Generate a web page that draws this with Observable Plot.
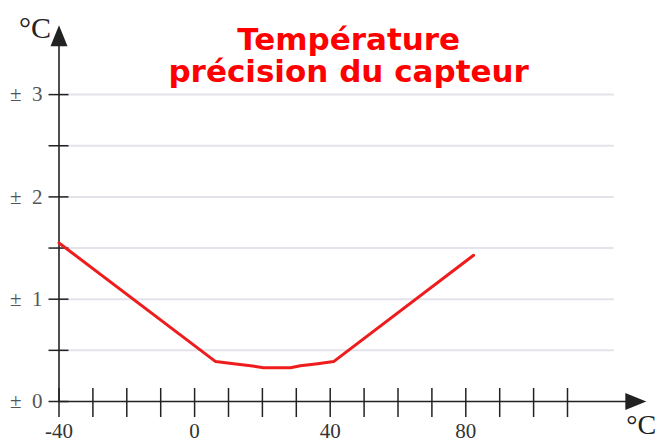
<!DOCTYPE html>
<html>
<head>
<meta charset="utf-8">
<script src="https://cdn.jsdelivr.net/npm/d3@7"></script>
<script src="https://cdn.jsdelivr.net/npm/@observablehq/plot@0.6"></script>
<style>
  html, body { margin: 0; padding: 0; background: #ffffff; }
  #chart svg { display: block; }
</style>
</head>
<body>
<div id="chart"></div>
<script>
// ---- data ----
const tempX = [-40, 6.2, 11.5, 16.5, 20.3, 28.3, 31.2, 36.3, 41.0, 82.3];   // °C (sensor temperature)
const accuracyY = [1.55, 0.39, 0.37, 0.35, 0.33, 0.33, 0.35, 0.37, 0.39, 1.43]; // ± °C

const xTicks = [-40, -30, -20, -10, 0, 10, 20, 30, 40, 50, 60, 70, 80, 90, 100, 110];
const xLabels = [-40, 0, 40, 80];
const yTicks = [0, 0.5, 1, 1.5, 2, 2.5, 3];
const yGrid = [0.5, 1, 1.5, 2, 2.5, 3];
const yLabels = [0, 1, 2, 3];
const xDomain = [-40, 130];
const yDomain = [0, 3.57];
const titleText = "Température\nprécision du capteur";
const unitText = "°C";

// ---- build ----
const points = tempX.map((x, i) => ({x, y: accuracyY[i]}));
const arrowHead = {
  draw(ctx) {
    ctx.moveTo(11, 0);
    ctx.lineTo(-10, -8.5);
    ctx.lineTo(-10, 8.5);
    ctx.closePath();
  }
};
const arrows = [
  {x: xDomain[1], y: 0, rotate: 0},
  {x: xDomain[0], y: yDomain[1], rotate: -90}
];
const serif = "'Liberation Serif', 'Times New Roman', serif";
const axisColor = "#222";

const chart = Plot.plot({
  width: 661,
  height: 443,
  marginLeft: 58.5,
  marginRight: 26.2,
  marginTop: 35.8,
  marginBottom: 42,
  x: {domain: xDomain},
  y: {domain: yDomain},
  style: {background: "#ffffff", overflow: "visible"},
  marks: [
    Plot.ruleY(yGrid, {y: d => d, stroke: "#e3e3eb", strokeWidth: 2, insetRight: 21}),
    // axis lines
    Plot.ruleY([0], {y: d => d, x1: xDomain[0], x2: xDomain[1], stroke: axisColor, strokeWidth: 1.6}),
    Plot.ruleX([xDomain[0]], {x: d => d, y1: 0, y2: yDomain[1], stroke: axisColor, strokeWidth: 1.6}),
    Plot.dot(arrows, {x: "x", y: "y", rotate: "rotate", symbol: arrowHead, fill: axisColor, stroke: "none"}),
    // tick marks crossing the axes
    Plot.axisX({ticks: xTicks, tickSize: 29, dy: -13, tickFormat: () => "", stroke: axisColor, strokeWidth: 1.5, label: null}),
    Plot.axisY({ticks: yTicks, tickSize: 20, dx: 10, tickFormat: () => "", stroke: axisColor, strokeWidth: 1.5, label: null}),
    // tick labels
    Plot.axisX({ticks: xLabels, tickSize: 0, tickPadding: 22, fontSize: 21, fontFamily: serif, fill: "#333",
      tickFormat: d => String(d), label: null}),
    Plot.axisY({ticks: yLabels, tickSize: 0, tickPadding: 16.5, fontSize: 21, fontFamily: serif, fill: "#555",
      tickFormat: d => "±\u2002" + d, label: null}),
    // data line
    Plot.line(points, {x: "x", y: "y", stroke: "#ee1c1c", strokeWidth: 3}),
    // unit labels
    Plot.text([unitText], {text: d => d, frameAnchor: "top-left", textAnchor: "end", lineAnchor: "middle",
      dx: -8, dy: -7.5, fontSize: 30, fontFamily: serif, fill: "#222"}),
    Plot.text([unitText], {text: d => d, frameAnchor: "bottom-right", textAnchor: "start", lineAnchor: "middle",
      dx: -9, dy: 24, fontSize: 28, fontFamily: serif, fill: "#222"}),
    // title
    Plot.text([titleText], {text: d => d, frameAnchor: "top", lineAnchor: "top", dx: 1.5, dy: -9.5,
      lineHeight: 1.05, fontSize: 31, fontWeight: "bold", fontFamily: "'DejaVu Sans', Verdana, sans-serif", fill: "#ff0000"})
  ]
});
document.getElementById("chart").append(chart);
</script>
</body>
</html>
